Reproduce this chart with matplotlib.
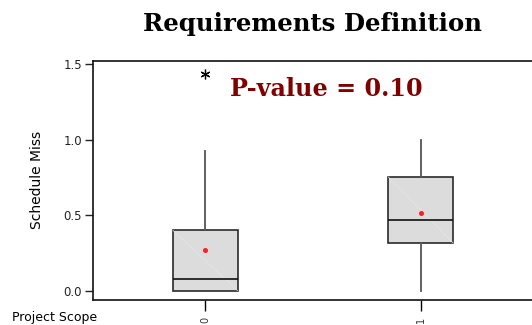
import matplotlib

matplotlib.use("Agg")
import matplotlib.pyplot as plt

# values
groups = ["0", "1"]
q1 = [0.0, 0.316]
med = [0.075, 0.468]
q3 = [0.40, 0.753]
whislo = [0.0, 0.0]
whishi = [0.926, 1.0]
means = [0.27, 0.513]
fliers = [[1.434], []]

positions = [0, 1]
box_w = 0.3

fig = plt.figure(figsize=(5.32, 3.25), dpi=100)
ax = fig.add_axes([93 / 532, 25 / 325, 440 / 532, 239.3 / 325])

stats = []
for i in range(len(groups)):
    stats.append(dict(label=groups[i], q1=q1[i], med=med[i], q3=q3[i],
                      whislo=whislo[i], whishi=whishi[i], mean=means[i],
                      fliers=fliers[i]))

ax.bxp(stats, positions=positions, widths=box_w, patch_artist=True,
       showmeans=True, showcaps=False,
       boxprops=dict(facecolor="#dcdcdc", edgecolor="#2a2a2a", linewidth=1.2),
       medianprops=dict(color="#111111", linewidth=1.2, zorder=3),
       whiskerprops=dict(color="#555555", linewidth=1.3),
       meanprops=dict(marker="o", markersize=2.6, markerfacecolor="#ff2020",
                      markeredgecolor="#ff2020", zorder=4),
       flierprops=dict(marker=(6, 2, 0), markersize=7, markeredgecolor="black",
                       markeredgewidth=0.9, linestyle="none"))

# faint diagonal inside each box (rendering artifact of the original)
for p, lo, hi in zip(positions, q1, q3):
    ax.plot([p - box_w / 2, p + box_w / 2], [hi, lo], color="#e6e6e6",
            linewidth=0.5, zorder=2.1)

ax.set_xlim(-0.521, 1.521)
ax.set_ylim(-0.0616, 1.524)
ax.set_yticks([0.0, 0.5, 1.0, 1.5])
ax.set_yticklabels(["0.0", "0.5", "1.0", "1.5"])
ax.set_xticks(positions)
ax.set_xticklabels(groups, rotation=90, fontsize=7, color="#333333")
ax.tick_params(axis="y", direction="out", length=6, width=1, labelsize=8.5,
               colors="#222222", pad=2)
ax.tick_params(axis="x", direction="out", length=8, width=1, pad=4)
for s in ax.spines.values():
    s.set_linewidth(1.2)
    s.set_color("#111111")
ax.spines["right"].set_visible(False)

ax.set_ylabel("Schedule Miss", fontsize=10, labelpad=14)

fig.text(312 / 532, 1 - 31.5 / 325, "Requirements Definition", ha="center",
         va="baseline", fontsize=17.6, fontweight="bold", family="DejaVu Serif")
ax.text(230 / 532, 1 - 96.5 / 325, "P-value = 0.10", transform=fig.transFigure,
        ha="left", va="baseline", fontsize=17.2, fontweight="bold",
        family="DejaVu Serif", color="#800000")
fig.text(12 / 532, 1 - 321 / 325, "Project Scope", ha="left", va="baseline",
         fontsize=9)

fig.savefig("out.png", dpi=100)
plt.close(fig)
